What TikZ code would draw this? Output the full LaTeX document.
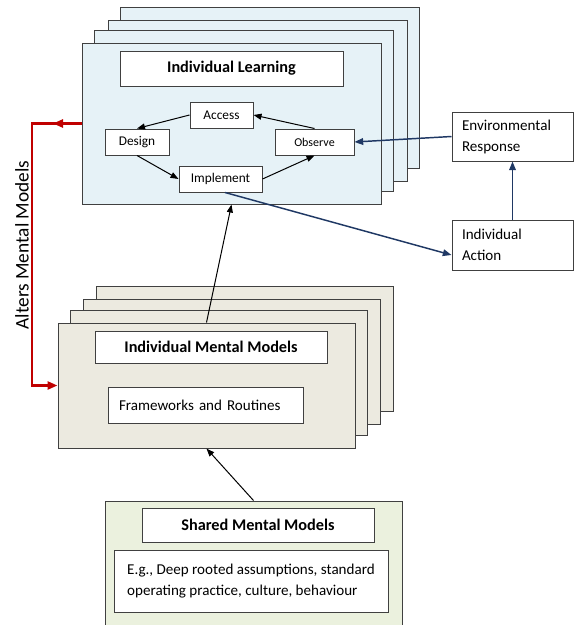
\documentclass[tikz,border=0pt]{standalone}
\usepackage{fontspec}
\setmainfont{Carlito}
\usepackage[dvipsnames,rgb]{xcolor}
\usepackage{tikz}
\usetikzlibrary{positioning,shapes,arrows.meta}

\definecolor{LearnBlue}{HTML}{E6F2F7}
\definecolor{MentalSand}{HTML}{ECEAE0}
\definecolor{SharedGreen}{HTML}{EBF1DE}
\definecolor{ArrowNavy}{HTML}{1F3864}
\definecolor{AlterRed}{HTML}{C00000}

\begin{document}
\begin{tikzpicture}[
        x=0.75pt, y=-0.75pt,
        >={Triangle[length=6pt,width=4.5pt]},
        card/.style={draw=black!75, line width=0.75pt},
        learncard/.style={card, fill=LearnBlue, minimum width=224.25pt, minimum height=120.75pt},
        mentalcard/.style={card, fill=MentalSand, minimum width=222.75pt, minimum height=93.75pt},
        titlebox/.style={card, fill=white, inner sep=0pt, font=\bfseries\fontsize{12.2}{14}\selectfont},
        stepbox/.style={card, fill=white, inner sep=0pt, minimum height=19.5pt, font=\fontsize{10}{12}\selectfont},
        textbox/.style={card, fill=white, align=left, font=\fontsize{11.3}{15.75}\selectfont},
        link/.style={->, line width=0.75pt},
        navy/.style={->, draw=ArrowNavy, line width=1.1pt, >={Triangle[length=6.5pt,width=5pt]}},
        alter/.style={draw=AlterRed, line width=2.2pt, >={Triangle[length=7.5pt,width=6pt]}}
    ]
        \useasboundingbox (0,0) rectangle (574,625);

        \foreach \dx/\dy in {38/36, 26/23, 12/13}
            \node[learncard] at (231.5+\dx, 123.5-\dy) {};
        \node[learncard] (learn) at (231.5,123.5) {};
        \node[titlebox, minimum width=167.25pt, minimum height=26.25pt] (learntitle) at (231.5,68.5) {Individual Learning};
        \node[stepbox, minimum width=47.25pt] (access) at (221.5,115) {Access};
        \node[stepbox, minimum width=48pt] (design) at (137,142) {Design};
        \node[stepbox, minimum width=59.25pt, font=\fontsize{9}{11}\selectfont] (observe) at (314.5,142) {Observe};
        \node[stepbox, minimum width=62.25pt] (implement) at (220.5,179) {Implement};

        \foreach \dx/\dy in {38/37, 25/24, 12/13}
            \node[mentalcard] at (206.5+\dx, 385.5-\dy) {};
        \node[mentalcard] (mental) at (206.5,385.5) {};
        \node[titlebox, minimum width=174pt, minimum height=24pt] (mentaltitle) at (211,347) {Individual Mental Models};
        \node[textbox, minimum width=146.25pt, minimum height=27pt, inner xsep=8.25pt, text width=129.75pt] (routines) at (205.5,405) {Frameworks and Routines};

        \node[card, fill=SharedGreen, minimum width=222.75pt, minimum height=96pt] (shared) at (253.5,565) {};
        \node[titlebox, minimum width=174pt, minimum height=25.5pt] (sharedtitle) at (258,525) {Shared Mental Models};
        \node[textbox, minimum width=205.5pt, minimum height=46.5pt] (examples) at (251,581) {E.g., Deep rooted assumptions, standard\\operating practice, culture, behaviour};

        \node[textbox, minimum width=90.75pt, minimum height=36.75pt, inner xsep=7.5pt, text width=75.75pt] (env) at (512.5,136.5) {Environmental\\Response};
        \node[textbox, minimum width=90.75pt, minimum height=37.5pt, inner xsep=7.5pt, text width=75.75pt] (action) at (512.5,245) {Individual\\Action};

        \node[rotate=90, font=\fontsize{14.5}{17}\selectfont] (altertext) at (22,245) {Alters Mental Models};

        \draw[link] (access.west) -- (design.north);
        \draw[link] (design.south) -- (implement.west);
        \draw[link] (implement.east) -- (observe.south);
        \draw[link] (observe.north) -- (access.east);

        \draw[navy] (env.west) -- (observe.east);
        \draw[navy] (action.north) -- (env.south);
        \draw[navy] ([xshift=3.4pt]implement.south) -- ([yshift=-7.5pt]action.west);

        \draw[link] (mental.north) -- (learn.south);
        \draw[link] (shared.north) -- (mental.south);

        \coordinate (bend) at (32,385.5);
        \coordinate (tip) at (53,123.5);
        \draw[alter, ->] (learn.west) -| (bend) -- (mental.west);
        \draw[alter, ->] (learn.west) -- (tip);
    \end{tikzpicture}
\end{document}
